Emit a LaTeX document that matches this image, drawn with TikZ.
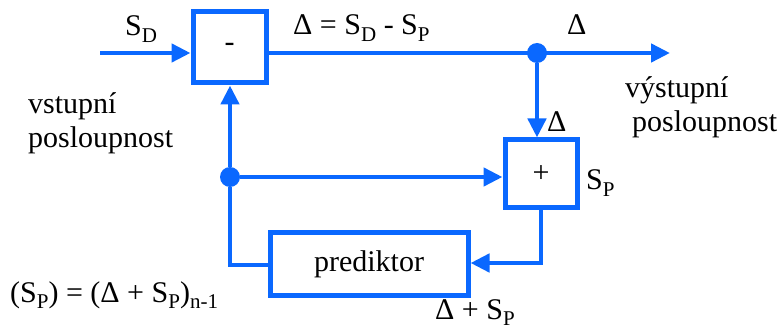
\documentclass[tikz,border=0pt]{standalone}
\usepackage{fontspec}
\setmainfont{Liberation Serif}
\usetikzlibrary{arrows.meta}
\definecolor{lblue}{RGB}{10,104,255}
\tikzset{
  blk/.style={draw=lblue, line width=5pt, minimum width=#1, inner sep=0pt},
  wire/.style={lblue, line width=4.5pt},
  arr/.style={wire, -{Triangle[length=19pt,width=18pt]}},
  dot/.style={circle, fill=lblue, minimum size=20pt, inner sep=0pt},
  lbl/.style={font=\fontsize{30}{34}\selectfont, inner sep=0pt, anchor=base west},
}
\newcommand{\sub}[1]{\raisebox{-0.45ex}{\fontsize{21}{23}\selectfont #1}}
\begin{document}
\begin{tikzpicture}[x=1pt,y=-1pt]
\useasboundingbox (0,0) rectangle (782,331);
% blocks
\node[blk=73pt, minimum height=71pt, font=\fontsize{30}{34}\selectfont] (minus) at (229.5,47.5) {-};
\node[blk=72pt, minimum height=68pt, font=\fontsize{30}{34}\selectfont] (plus) at (541,174) {+};
\node[blk=198pt, minimum height=62pt, font=\fontsize{30}{34}\selectfont] (pred) at (369,264) {prediktor};
% coordinates
\coordinate (in) at (100,53);
\coordinate (out) at (670,53);
\node[dot] (d1) at (537,53) {};
\node[dot] (d2) at (230,177) {};
\coordinate (c1) at (541,263);
\coordinate (c2) at (230,265);
% connectors
\draw[arr] (in) -- (minus.west |- in);
\draw[arr] (minus.east |- out) -- (out);
\draw[arr] (d1) -- (d1 |- plus.north);
\draw[arr] (d2) -- (plus.west |- d2);
\draw[arr] (d2) -- (d2 |- minus.south);
\draw[arr] (plus.south) -- (c1) -- (pred.east |- c1);
\draw[wire] (pred.west |- c2) -- (c2) -- (d2);
% labels
\node[lbl] (sd) at (125,36) {S\sub{D}};
\node[lbl] (eq) at (293,35) {Δ = S\sub{D} - S\sub{P}};
\node[lbl] (dr) at (567,35) {Δ};
\node[lbl] (dp) at (547,132) {Δ};
\node[lbl] (sp) at (586,190) {S\sub{P}};
\node[lbl] (vy1) at (625,98) {výstupní};
\node[lbl] (vy2) at (632,132) {posloupnost};
\node[lbl] (vs1) at (28,114) {vstupní};
\node[lbl] (vs2) at (28,148) {posloupnost};
\node[lbl] (form) at (10,302) {(S\sub{P}) = (Δ + S\sub{P})\sub{n-1}};
\node[lbl] (dsp) at (435,319) {Δ + S\sub{P}};
\end{tikzpicture}
\end{document}
